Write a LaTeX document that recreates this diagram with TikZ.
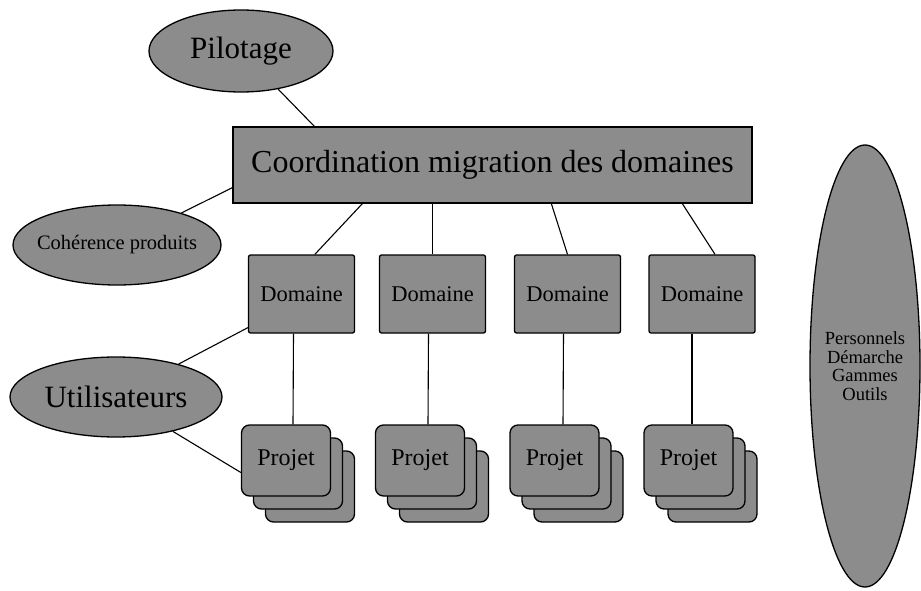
\documentclass[tikz,border=0pt]{standalone}
\usepackage{fontspec}
\setmainfont{Liberation Serif}
\usetikzlibrary{shapes.geometric,calc}
\begin{document}
\begin{tikzpicture}[x=1pt,y=-1pt,
  shade/.style={fill=black!45,draw=black,line width=1.3pt},
  ell/.style={shade,ellipse,inner sep=0pt},
  bigbox/.style={shade,rectangle,inner sep=0pt,minimum width=519pt,minimum height=76pt,font=\fontsize{32}{36}\selectfont},
  dombox/.style={shade,rectangle,rounded corners=2pt,inner sep=0pt,minimum width=106pt,minimum height=78pt,font=\fontsize{22.5}{26}\selectfont},
  card/.style={shade,rectangle,rounded corners=8pt,inner sep=0pt,minimum width=89pt,minimum height=71pt,font=\fontsize{24}{26}\selectfont},
  link/.style={draw=black,line width=1.1pt}]
\useasboundingbox (0,0) rectangle (921,591);

% ellipses
\node[ell,minimum width=184pt,minimum height=82pt,font=\fontsize{31}{34}\selectfont] (pil) at (241,51) {Pilotage};
\node[ell,minimum width=208pt,minimum height=80pt,
  label={[font=\fontsize{20.5}{22}\selectfont,inner sep=0pt]center:Cohérence produits}] (coh) at (117,245) {};
\node[ell,minimum width=212pt,minimum height=80pt,font=\fontsize{31}{34}\selectfont] (uti) at (116,397) {Utilisateurs};
\node[ell,minimum width=110pt,minimum height=442pt,
  label={[font=\fontsize{18.5}{18.5}\selectfont,align=center,inner sep=0pt]center:Personnels\\Démarche\\Gammes\\Outils}] (pers) at (865,366) {};

% main box
\node[bigbox] (coord) at (492.5,165) {Coordination migration des domaines};

% domaines
\node[dombox] (d1) at (301.5,294) {Domaine};
\node[dombox] (d2) at (432.5,294) {Domaine};
\node[dombox] (d3) at (567.5,294) {Domaine};
\node[dombox] (d4) at (702,294) {Domaine};

% project stacks (back, middle, front)
\node[card] (p1c) at (310,486.5) {};
\node[card] (p1b) at (298,473.5) {};
\node[card] (p1a) at (286,460.5) {Projet};
\node[card] (p2c) at (444,486.5) {};
\node[card] (p2b) at (432,473.5) {};
\node[card] (p2a) at (420,460.5) {Projet};
\node[card] (p3c) at (578.5,486.5) {};
\node[card] (p3b) at (566.5,473.5) {};
\node[card] (p3a) at (554.5,460.5) {Projet};
\node[card] (p4c) at (712.5,486.5) {};
\node[card] (p4b) at (700.5,473.5) {};
\node[card] (p4a) at (688.5,460.5) {Projet};

% connectors
\draw[link] (pil) -- ($(coord.north west)+(82,0)$);
\draw[link] (coh) -- ($(coord.south west)+(0,-16)$);
\draw[link] ($(coord.south west)+(130,0)$) -- ($(d1.north west)+(67,0)$);
\draw[link] (coord.south -| d2.north) -- (d2.north);
\draw[link] ($(coord.south west)+(319,0)$) -- (d3.north);
\draw[link] ($(coord.south west)+(450,0)$) -- ($(d4.north)+(13,0)$);
\draw[link] ($(d1.south)+(-8,0)$) -- ($(p1a.north)+(7,0)$);
\draw[link] ($(d2.south)+(-4,0)$) -- ($(p2a.north)+(8,0)$);
\draw[link] ($(d3.south)+(-4,0)$) -- ($(p3a.north)+(8.5,0)$);
\draw[link] ($(d4.south)+(-10,0)$) -- ($(p4a.north)+(3.5,0)$);
\draw[link] (uti) -- ($(d1.south west)+(0,-6)$);
\draw[link] (uti) -- ($(p1a.west)+(0,12)$);
\end{tikzpicture}
\end{document}
